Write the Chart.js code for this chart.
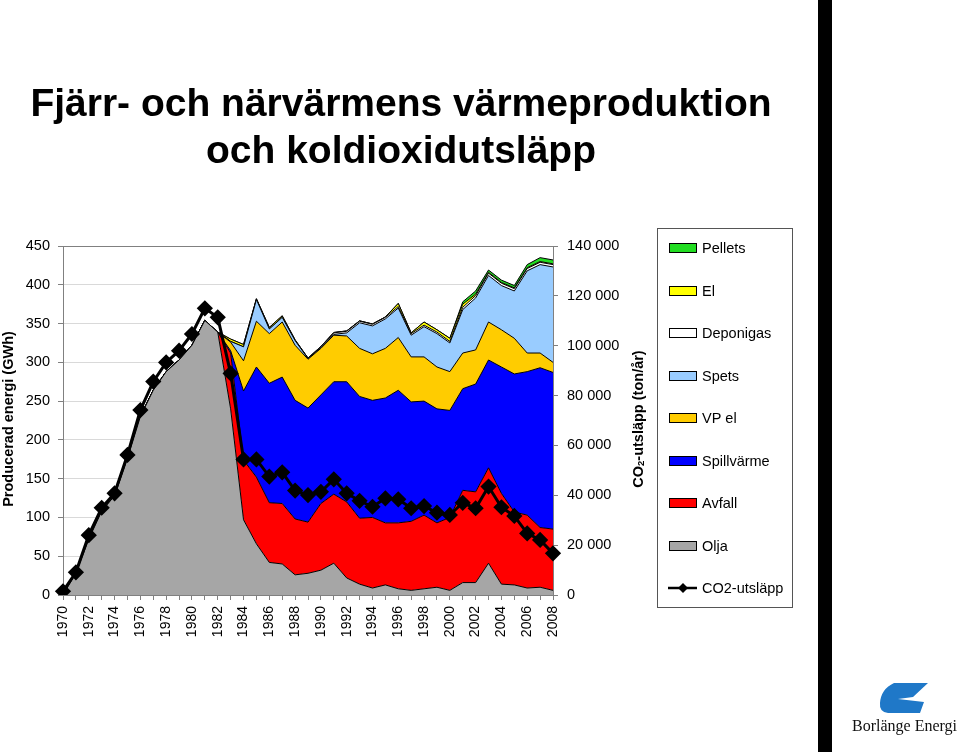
<!DOCTYPE html>
<html lang="sv">
<head>
<meta charset="UTF-8">
<title>Fjärr- och närvärmens värmeproduktion och koldioxidutsläpp</title>
<script src="https://cdn.jsdelivr.net/npm/chart.js"></script>
<style>
  html, body { margin: 0; padding: 0; background: #fff; }
  #wrap { position: relative; width: 960px; height: 752px; overflow: hidden; font-family: "Liberation Sans", Arial, sans-serif; }
  #chart { position: absolute; left: 0; top: 0; }
  #title { position: absolute; left: 0; top: 79px; width: 802px; text-align: center; font-weight: bold; font-size: 39px; line-height: 47px; color: #000; }
  #bar { position: absolute; left: 818px; top: 0; width: 14px; height: 752px; background: #000; }
  #logo { position: absolute; left: 840px; top: 670px; }
  #logo-text { position: absolute; left: 852px; top: 717px; font-family: "Liberation Serif", serif; font-size: 16px; color: #111; white-space: nowrap; }
</style>
</head>
<body>
<div id="wrap">
  <canvas id="chart" width="960" height="752"></canvas>
  <div id="title">Fjärr- och närvärmens värmeproduktion<br>och koldioxidutsläpp</div>
  <div id="bar"></div>
  <svg id="logo" width="100" height="50" viewBox="840 670 100 50">
    <path d="M894 683 L928 683 L913 697 L898 699 L924 702 L920 713 L888 713 Q879 712 880 703 Q881 689 894 683 Z" fill="#1f78c8"/>
  </svg>
  <div id="logo-text">Borlänge Energi</div>
</div>

<script>
// years on the x axis
const years = ['1970','1971','1972','1973','1974','1975','1976','1977','1978','1979',
               '1980','1981','1982','1983','1984','1985','1986','1987','1988','1989',
               '1990','1991','1992','1993','1994','1995','1996','1997','1998','1999',
               '2000','2001','2002','2003','2004','2005','2006','2007','2008'];

// produced energy per source (GWh), stacked bottom to top
const olja       = [0,28,72,108,128,176,230,264,288,303,322,354,339,240,97,66,42,40,26,28,
                    32,41,22,14,9,13,8,6,8,10,6,16,16,41,14,13,9,10,6];
const avfall     = [0,0,0,0,0,0,0,0,0,0,0,0,0,72,77,86,77,78,72,66,
                    86,89,98,85,91,80,85,89,95,83,94,119,117,123,117,94,94,77,79];
const spillvarme = [0,0,0,0,0,0,0,0,0,0,0,0,0,3,89,142,154,163,153,147,
                    140,145,155,157,151,161,171,154,147,147,138,131,139,139,163,178,185,206,202];
const vpEl       = [0,0,0,0,0,0,0,0,0,0,0,0,0,11,39,59,64,71,71,63,
                    60,60,59,62,60,64,68,58,57,54,50,46,44,49,48,46,24,19,13];
const spets      = [0,0,0,0,0,0,0,0,0,0,0,0,0,1,18,28,6,6,6,1,
                    1,1,4,33,36,38,38,28,39,43,37,56,67,60,57,61,106,114,123];
const deponigas  = [0,0,0,0,0,0,0,0,0,0,0,0,0,0,0,0,0,0,0,0,
                    1,2,2,2,2,2,2,2,2,2,2,3,3,3,3,3,3,3,3];
const el         = [0,0,0,0,0,0,0,0,0,0,0,0,0,3,3,1,2,2,1,0.5,
                    0.5,0.5,0.5,0.5,0.5,0.5,4,1,4,3,4,4,2,1,1,1,1,1,1];
const pellets    = [0,0,0,0,0,0,0,0,0,0,0,0,0,0,0,0,0,0,0,0,
                    0,0,0,0,0,0,0,0,0,0,0,3,4,3,3,3,4,5,5];

// CO2 emissions (ton/year), right axis
const co2 = [1500,9100,24000,35000,40800,56200,74200,85600,93300,98000,
             104700,115000,111400,88900,54400,54400,47500,49200,41900,40100,
             41400,46400,40800,37800,35400,38800,38400,34800,35700,33000,
             32100,37000,34800,43500,35200,31700,24700,22100,16700];

const font = '"Liberation Sans", Arial, sans-serif';

function spaced(v) {
  return String(v).replace(/\B(?=(\d{3})+(?!\d))/g, ' ');
}

function area(label, data, color, fill) {
  return {
    label: label, data: data, yAxisID: 'y',
    backgroundColor: color, borderColor: '#000', borderWidth: 1,
    fill: fill, pointRadius: 0, tension: 0
  };
}

// axis titles and the boxed legend on the right
const decor = {
  id: 'decor',
  afterDraw(chart) {
    const c = chart.ctx;
    c.save();
    c.fillStyle = '#000';
    c.textBaseline = 'middle';

    c.save();
    c.font = 'bold 14.5px ' + font;
    c.translate(8.5, 419);
    c.rotate(-Math.PI / 2);
    c.textAlign = 'center';
    c.fillText('Producerad energi (GWh)', 0, 0);
    c.restore();

    // CO2 title with a small subscript 2
    c.save();
    c.translate(638.5, 419);
    c.rotate(-Math.PI / 2);
    c.textAlign = 'left';
    const big = 'bold 14.5px ' + font, small = 'bold 9.5px ' + font;
    c.font = big;
    const w1 = c.measureText('CO').width, w3 = c.measureText('-utsläpp (ton/år)').width;
    c.font = small;
    const w2 = c.measureText('2').width;
    let x = -(w1 + w2 + w3) / 2;
    c.font = big; c.fillText('CO', x, 0); x += w1;
    c.font = small; c.fillText('2', x, 3); x += w2;
    c.font = big; c.fillText('-utsläpp (ton/år)', x, 0);
    c.restore();

    // legend
    c.strokeStyle = '#555';
    c.lineWidth = 1;
    c.strokeRect(657.5, 228.5, 135, 379);
    const ds = chart.data.datasets;
    const items = ds.slice(1).reverse().concat([ds[0]]);
    c.font = '14.5px ' + font;
    items.forEach(function (d, i) {
      const y = Math.round(248.3 + i * 42.5);
      if (d.yAxisID === 'y') {
        c.fillStyle = d.backgroundColor;
        c.fillRect(669.5, y - 4.5, 27, 9);
        c.strokeStyle = '#000';
        c.strokeRect(669.5, y - 4.5, 27, 9);
      } else {
        c.strokeStyle = '#000';
        c.lineWidth = 2.5;
        c.beginPath(); c.moveTo(668, y); c.lineTo(697, y); c.stroke();
        c.fillStyle = '#000';
        c.beginPath();
        c.moveTo(683, y - 5); c.lineTo(688, y); c.lineTo(683, y + 5); c.lineTo(678, y);
        c.closePath(); c.fill();
        c.lineWidth = 1;
      }
      c.fillStyle = '#000';
      c.textAlign = 'left';
      c.fillText(d.label, 702, y + 0.5);
    });
    c.restore();
  }
};

new Chart(document.getElementById('chart'), {
  type: 'line',
  data: {
    labels: years,
    datasets: [
      {
        label: 'CO2-utsläpp', data: co2, yAxisID: 'y1', fill: false,
        borderColor: '#000', borderWidth: 3, tension: 0,
        pointStyle: 'rectRot', pointRadius: 6,
        pointBackgroundColor: '#000', pointBorderColor: '#000'
      },
      area('Olja', olja, '#a6a6a6', 'origin'),
      area('Avfall', avfall, '#ff0000', '-1'),
      area('Spillvärme', spillvarme, '#0000ff', '-1'),
      area('VP el', vpEl, '#ffcc00', '-1'),
      area('Spets', spets, '#99ccff', '-1'),
      area('Deponigas', deponigas, '#ffffff', '-1'),
      area('El', el, '#ffff00', '-1'),
      area('Pellets', pellets, '#22dd22', '-1')
    ]
  },
  options: {
    responsive: false,
    animation: false,
    layout: { padding: { left: 0, top: 246, right: 327, bottom: 0 } },
    plugins: { legend: { display: false }, tooltip: { enabled: false }, title: { display: false } },
    scales: {
      x: {
        grid: { drawOnChartArea: false, tickLength: 5, tickColor: '#808080' },
        border: { color: '#808080' },
        ticks: {
          autoSkip: false, minRotation: 90, maxRotation: 90, padding: 6, color: '#000',
          font: { family: font, size: 14 },
          callback: function (v, i) { return i % 2 === 0 ? this.getLabelForValue(v) : ''; }
        },
        afterFit: function (s) { s.height = 157; }
      },
      y: {
        stacked: true, min: 0, max: 450,
        ticks: { stepSize: 50, padding: 8, color: '#000', font: { family: font, size: 14.5 } },
        grid: {
          color: function (ctx) { return ctx.tick && ctx.tick.value === 450 ? '#808080' : '#d9d9d9'; },
          tickLength: 5, tickColor: '#808080'
        },
        border: { color: '#808080' },
        afterFit: function (s) { s.width = 63; }
      },
      y1: {
        position: 'right', min: 0, max: 140000,
        ticks: { stepSize: 20000, padding: 9, color: '#000', font: { family: font, size: 14.5 }, callback: spaced },
        grid: { drawOnChartArea: false, tickLength: 5, tickColor: '#808080' },
        border: { color: '#808080' },
        afterFit: function (s) { s.width = 80; }
      }
    }
  },
  plugins: [decor]
});
</script>
</body>
</html>
